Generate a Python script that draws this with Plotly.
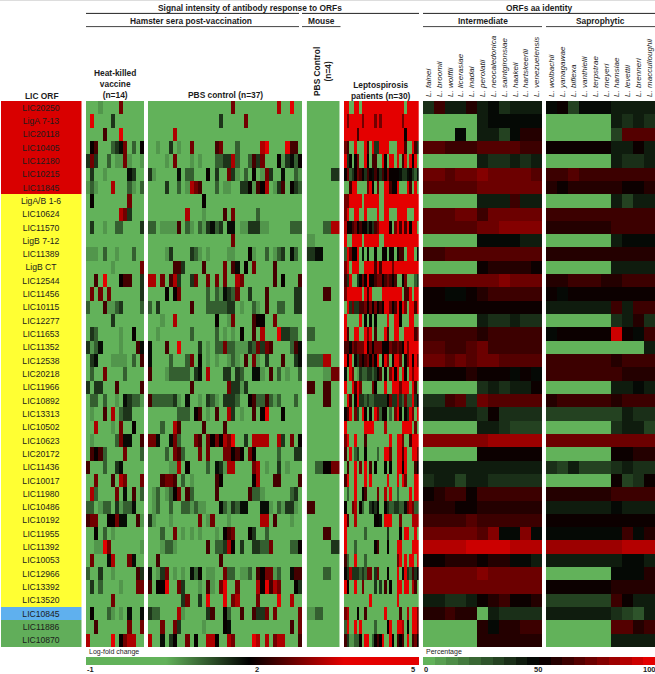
import plotly.graph_objects as go

W, H = 655, 674
FONT = "Liberation Sans"
INK = "#1c1c1c"

# one digit per cell: 0 = green ... 5 = black ... 9 = red
LEVELS = [-1, 0.68, 1.14, 1.5, 1.84, 2.0, 2.45, 2.79, 3.24, 5]

orf_labels = ["LIC20250", "LigA 7-13", "LIC20118", "LIC10405", "LIC12180", "LIC10215", "LIC11845",
              "LigA/B 1-6", "LIC10624", "LIC11570", "LigB 7-12", "LIC11389", "LigB CT", "LIC12544",
              "LIC11456", "LIC10115", "LIC12277", "LIC11653", "LIC11352", "LIC12538", "LIC20218",
              "LIC11966", "LIC10892", "LIC13313", "LIC10502", "LIC10623", "LIC20172", "LIC11436",
              "LIC10017", "LIC11980", "LIC10486", "LIC10192", "LIC11955", "LIC11392", "LIC10053",
              "LIC12966", "LIC13392", "LIC13520", "LIC10845", "LIC11886", "LIC10870"]
orf_groups = [0] * 7 + [1] * 31 + [2] + [3] * 2
group_colors = ["#d90000", "#ffff33", "#5fb0ee", "#61ae5a"]

intermediate_names = ["L. fainei", "L. broomii", "L. wolffii", "L. licerasiae", "L. inadai", "L. perolatii",
                      "L. neocaledonica", "L. saintgironsiae", "L. haakeii", "L. hartskeerlii", "L. venezuelensis"]
saprophytic_names = ["L. wolbachii", "L. yanagawae", "L. biflexa", "L. vanthielii", "L. terpstrae", "L. meyeri",
                     "L. hamsiae", "L. levettii", "L. brenneri", "L. macculloughii"]

heat_killed = [
    "00010000700000", "09000030000000", "00006000900000", "05600023470205", "37300201171001",
    "03001000004300", "12100080002102", "05000000007000", "00000000873000", "03001002200003",
    "00000000000000", "11102001000200", "00000010000007", "00609000566003", "07070700000003",
    "20006112300002", "00000030000000", "03200000100500", "31240000100064", "03400011110206",
    "02007000020000", "30330006000006", "02202001043221", "01006080233000", "00800010700500",
    "01000002744006", "06562000070002", "60002003400000", "00700060870007", "08200007040602",
    "22012203122400", "67700557440061", "00502010000000", "00119700000001", "07000480007400",
    "20030010000063", "03020000100077", "00000070000000", "05000210104004", "00600000007007",
    "80000090578800",
]

pbs_control = [
    "0000000000 0000000000 7000000000 0800900",
    "0000000000 0000000300 0007000000 0000000",
    "0000008000 0000000000 0000000000 0000000",
    "0010030100 7000006700 0200000890 0009660",
    "0000107000 1010002233 8200263700 0513425",
    "3100000402 2000503007 3102050173 0040021",
    "0000300201 8760002011 0033516580 1360532",
    "0000000000 0005000000 0000000000 0000000",
    "0000000008 0001000060 7000002000 0000000",
    "2201111602 1021342304 4011333110 0000222",
    "0000000000 0000000000 7000000000 0000000",
    "0000130000 3210100001 1000510020 1230420",
    "0000006630 0006000070 6405070000 6000000",
    "8807068300 3700707070 0870000000 6050006",
    "0000505700 0000202143 2700300060 0000033",
    "2030000000 6000222223 3010021060 0220033",
    "0001008000 0000005001 7000065500 7000000",
    "0010000000 2000002010 1050060800 0933220",
    "4000600900 0030102272 2111327376 0000264",
    "4000020002 7050101001 2106071030 0060034",
    "6000122222 0340800033 0320044106 0201002",
    "0000000000 6000000007 3313000000 0000000",
    "6222223104 0010321033 3200562262 1200020",
    "0000000222 0560106008 3010060590 0050000",
    "0002008600 0006000060 0000000000 0000000",
    "7740047200 0760757587 9003088880 0830705",
    "0000207620 0070700077 5650750000 0200033",
    "0000011805 0000204318 8000078010 0301000",
    "0006776020 1000006500 0000058000 6600006",
    "0120125706 2000006000 0000622100 0000230",
    "0120020022 1211000421 3244000441 0213310",
    "3100010000 0070170001 0000000880 6000100",
    "0002007010 1010001056 7000530020 0000000",
    "0001221000 0000602238 5030033227 0000225",
    "0060000000 0000000600 0000000000 0000000",
    "4013701010 4250110072 2011206577 1200466",
    "6055900730 0010610790 0700008596 8700053",
    "0000000037 0030900090 7800007000 0900800",
    "3220000810 0000360052 0060063370 7000007",
    "0007007300 0001000054 0000000000 0000607",
    "8004035007 0500885008 7000098080 7880006",
]

mouse_control = [
    "0000", "0000", "0000", "0000", "0000", "0003", "0000", "0000", "0000", "0028",
    "1000", "3400", "0000", "0000", "0060", "0000", "0000", "2000", "0000", "2280",
    "0017", "6060", "0060", "0000", "0000", "0000", "0000", "0257", "0000", "0000",
    "6000", "0000", "0060", "0003", "0000", "0020", "0000", "0000", "1200", "0000",
    "0000",
]

lepto_patients = [
    "9900990999 9999999999 9999099999",
    "9799999799 9979799999 9997999999",
    "9999969999 9999999999 9999599999",
    "7600900096 0933999900 0999600963",
    "9350570095 0660095099 0906909590",
    "5723576536 5465365755 5543345324",
    "0069900007 9507009965 5900096090",
    "7799999099 9999009999 9999999999",
    "7900990090 0009009900 0999900099",
    "8556756553 5367999950 7969695990",
    "9009999099 9999009999 9999999999",
    "2975590405 0050055055 0566099905",
    "7909990099 9969699997 9999999999",
    "6390035759 5567756765 6005700023",
    "7999999096 9000099999 9990669099",
    "0937336675 7575659975 6959709969",
    "9000009050 5050000900 9950009900",
    "9600990097 9060009600 9900999967",
    "6657677795 7577755576 6765979999",
    "9590536567 5759059705 9970579597",
    "4097013223 3235605079 5909509799",
    "9009697000 0750009009 9979990960",
    "0960593323 2233333573 3832722935",
    "5690730950 5097255020 7950539709",
    "9000000099 9900008000 0009999070",
    "7900900060 0000000090 0997006999",
    "6090230050 0002009970 0996900997",
    "0600907090 6050005050 0995900065",
    "6900900090 9000000900 0909700099",
    "0200900560 0007008090 0200009099",
    "5007805200 3435005322 3322478722",
    "9600800000 0055409990 0070000888",
    "9000000020 0000000300 0050990090",
    "9000200000 0056000500 0990000999",
    "6200900020 0000000000 0790909909",
    "5383332327 7037000500 0904932635",
    "9500900700 0030306050 0990990860",
    "0000000000 9000000000 0900000000",
    "7800050060 0000009000 0060080997",
    "2900909000 0020000590 0998050997",
    "6311225099 0256590095 0656090675",
]

intermediate_identity = [
    [38, 62, 44, 40, 58, 40, 46, 38, 42, 42, 42],
    [0, 0, 0, 0, 0, 43, 46, 46, 46, 46, 46],
    [0, 0, 0, 48, 0, 42, 44, 33, 48, 58, 56],
    [65, 65, 62, 61, 63, 65, 66, 67, 66, 64, 62],
    [0, 0, 0, 0, 0, 41, 38, 37, 43, 36, 41],
    [70, 70, 68, 70, 72, 75, 70, 70, 70, 70, 68],
    [68, 68, 66, 69, 66, 70, 72, 72, 72, 72, 70],
    [0, 0, 0, 0, 0, 40, 43, 44, 60, 44, 44],
    [68, 68, 68, 70, 70, 63, 70, 70, 70, 70, 70],
    [68, 68, 68, 68, 68, 73, 73, 75, 75, 75, 75],
    [0, 0, 0, 0, 0, 45, 45, 45, 45, 44, 44],
    [62, 62, 65, 65, 65, 66, 66, 65, 65, 65, 65],
    [0, 0, 0, 0, 0, 52, 56, 56, 56, 56, 55],
    [70, 70, 72, 72, 74, 72, 74, 75, 72, 74, 72],
    [52, 54, 45, 45, 52, 58, 64, 62, 62, 62, 60],
    [55, 54, 52, 55, 55, 53, 52, 52, 52, 52, 50],
    [0, 0, 0, 0, 0, 44, 36, 36, 40, 37, 36],
    [62, 62, 60, 62, 62, 58, 62, 62, 62, 62, 60],
    [65, 65, 62, 60, 66, 70, 62, 62, 62, 62, 62],
    [70, 70, 68, 70, 68, 70, 70, 68, 68, 68, 68],
    [55, 55, 53, 50, 58, 55, 50, 50, 45, 50, 46],
    [0, 0, 0, 0, 0, 35, 42, 36, 42, 40, 54],
    [36, 36, 64, 68, 36, 72, 68, 66, 66, 66, 66],
    [43, 43, 41, 41, 41, 38, 55, 38, 38, 38, 38],
    [0, 0, 0, 0, 0, 40, 44, 37, 34, 34, 34],
    [78, 78, 78, 78, 75, 78, 84, 84, 84, 84, 84],
    [0, 0, 0, 0, 0, 54, 52, 55, 52, 53, 55],
    [41, 41, 41, 41, 41, 41, 42, 41, 44, 41, 40],
    [36, 40, 41, 34, 40, 44, 36, 36, 38, 38, 38],
    [55, 57, 60, 60, 54, 62, 62, 64, 62, 62, 60],
    [56, 56, 57, 55, 55, 58, 58, 58, 58, 57, 57],
    [64, 64, 62, 62, 66, 64, 64, 62, 62, 64, 62],
    [74, 74, 72, 72, 70, 68, 76, 46, 46, 78, 46],
    [88, 88, 86, 86, 92, 92, 90, 90, 88, 86, 85],
    [55, 55, 58, 56, 58, 55, 58, 58, 45, 45, 44],
    [70, 70, 70, 70, 70, 76, 74, 72, 72, 72, 72],
    [72, 72, 70, 70, 72, 72, 72, 74, 74, 74, 74],
    [40, 40, 37, 37, 40, 52, 56, 62, 55, 55, 58],
    [58, 58, 62, 56, 58, 0, 44, 38, 36, 36, 38],
    [0, 0, 0, 0, 0, 58, 48, 56, 57, 62, 62],
    [0, 0, 0, 0, 0, 58, 58, 58, 58, 58, 56],
]

saprophytic_identity = [
    [47, 53, 32, 47, 48, 46, 43, 43, 42, 42],
    [0, 0, 0, 0, 0, 0, 42, 36, 42, 38],
    [0, 0, 0, 0, 0, 0, 33, 66, 66, 66],
    [50, 53, 52, 51, 52, 52, 44, 44, 52, 42],
    [0, 0, 0, 0, 0, 0, 42, 39, 39, 44],
    [62, 63, 65, 62, 62, 62, 60, 62, 63, 63],
    [56, 55, 57, 56, 56, 56, 56, 55, 55, 57],
    [0, 0, 0, 0, 0, 0, 40, 34, 40, 43],
    [60, 60, 60, 60, 62, 62, 62, 60, 60, 62],
    [58, 58, 56, 56, 58, 58, 62, 60, 60, 60],
    [0, 0, 0, 0, 0, 0, 42, 46, 46, 46],
    [56, 57, 57, 57, 57, 57, 57, 58, 58, 58],
    [0, 0, 0, 0, 0, 0, 40, 40, 40, 41],
    [58, 58, 60, 60, 60, 58, 57, 60, 60, 60],
    [50, 45, 52, 52, 52, 54, 54, 54, 52, 52],
    [43, 43, 43, 43, 43, 43, 63, 44, 60, 60],
    [0, 0, 0, 0, 0, 0, 36, 41, 56, 38],
    [45, 54, 54, 50, 50, 50, 90, 52, 46, 64],
    [0, 0, 0, 0, 0, 0, 0, 0, 0, 44],
    [62, 62, 62, 62, 60, 60, 58, 60, 60, 60],
    [60, 60, 60, 60, 60, 60, 60, 58, 58, 58],
    [0, 0, 0, 0, 0, 0, 40, 42, 46, 42],
    [58, 62, 62, 62, 64, 60, 56, 60, 60, 60],
    [33, 32, 32, 32, 33, 33, 32, 40, 36, 36],
    [0, 0, 0, 0, 0, 0, 37, 41, 41, 34],
    [72, 72, 70, 70, 72, 72, 72, 72, 72, 74],
    [0, 0, 0, 0, 0, 0, 53, 54, 58, 58],
    [36, 34, 42, 34, 34, 34, 38, 40, 37, 39],
    [0, 0, 0, 0, 0, 0, 55, 33, 36, 55],
    [56, 57, 56, 56, 58, 58, 60, 64, 60, 64],
    [42, 40, 41, 40, 40, 40, 46, 42, 40, 43],
    [55, 55, 55, 55, 55, 55, 55, 55, 55, 55],
    [46, 46, 46, 46, 46, 46, 47, 62, 46, 58],
    [82, 82, 80, 80, 82, 84, 84, 85, 86, 85],
    [42, 42, 40, 40, 42, 42, 40, 47, 47, 44],
    [0, 0, 0, 0, 0, 0, 45, 45, 45, 58],
    [50, 52, 50, 50, 50, 52, 56, 56, 56, 56],
    [33, 33, 33, 33, 33, 33, 60, 55, 44, 44],
    [42, 42, 42, 42, 42, 42, 35, 32, 28, 43],
    [0, 0, 0, 0, 0, 0, 66, 68, 56, 64],
    [0, 0, 0, 0, 0, 0, 42, 42, 44, 44],
]

GREEN = (98, 178, 90)
RED = (228, 0, 0)

# log-fold bar stays green to about a quarter and is full red from about three quarters
logfold_scale = [[0, "rgb(98,178,90)"], [0.24, "rgb(98,178,90)"], [0.49, "rgb(0,0,0)"],
                 [0.775, "rgb(228,0,0)"], [1, "rgb(228,0,0)"]]


def stepped_scale(steps):
    # the percentage bar in the figure is drawn in blocks
    scale = []
    for i in range(steps):
        t = i / (steps - 1)
        end = GREEN if t < 0.5 else RED
        share = abs(t - 0.5) * 2
        color = "rgb(%d,%d,%d)" % tuple(round(c * share) for c in end)
        scale += [[i / steps, color], [(i + 1) / steps, color]]
    return scale


def decode(rows):
    return [[LEVELS[int(c)] for c in row.replace(" ", "")] for row in rows]


def px_x(x):
    return x / W


def px_y(y):
    return 1 - y / H


def add_text(fig, x, y, text, size=8.4, bold=True, anchor="center", angle=0, ay="middle"):
    fig.add_annotation(x=px_x(x), y=px_y(y), xref="paper", yref="paper", text=text, showarrow=False,
                       xanchor=anchor, yanchor=ay, align="center", textangle=angle,
                       font=dict(family=FONT, size=size, color=INK, weight="bold" if bold else "normal"))


def add_rule(fig, x0, x1, y, color="#222222", width=1):
    fig.add_shape(type="line", xref="paper", yref="paper", x0=px_x(x0), x1=px_x(x1), y0=px_y(y), y1=px_y(y),
                  line=dict(color=color, width=width))


fig = go.Figure()

# left column with the coloured ORF labels
fig.add_trace(go.Heatmap(z=[[g] for g in orf_groups], x=["ORF"], y=orf_labels, xaxis="x", yaxis="y",
                         zmin=0, zmax=3, showscale=False,
                         colorscale=[[i / 3, c] for i, c in enumerate(group_colors)],
                         text=[[s] for s in orf_labels], texttemplate="%{text}",
                         textfont=dict(family=FONT, size=8.6, color=INK)))

panels = [
    ("x2", (86, 144), decode(heat_killed), None, "coloraxis"),
    ("x3", (148, 302), decode(pbs_control), None, "coloraxis"),
    ("x4", (306.7, 339.7), decode(mouse_control), None, "coloraxis"),
    ("x5", (344, 418.7), decode(lepto_patients), None, "coloraxis"),
    ("x6", (423, 542), intermediate_identity, intermediate_names, "coloraxis2"),
    ("x7", (546, 655), saprophytic_identity, saprophytic_names, "coloraxis2"),
]
for axis, span, z, names, caxis in panels:
    columns = names if names else list(range(len(z[0])))
    fig.add_trace(go.Heatmap(z=z, x=columns, y=orf_labels, xaxis=axis, yaxis="y", coloraxis=caxis))

layout_axes = {"xaxis": dict(domain=[px_x(1), px_x(81.5)], visible=False)}
for axis, span, z, names, caxis in panels:
    key = "xaxis" + axis[1:]
    if names:
        layout_axes[key] = dict(domain=[px_x(span[0]), px_x(span[1])], side="top", anchor="y", tickangle=-90,
                                tickmode="linear", dtick=1, ticks="", showgrid=False, zeroline=False,
                                showline=False, ticklabelstandoff=3,
                                tickfont=dict(family=FONT, size=8.1, color=INK, style="italic"))
    else:
        layout_axes[key] = dict(domain=[px_x(span[0]), px_x(span[1])], visible=False)

fig.update_layout(
    width=W, height=H, margin=dict(l=0, r=0, t=0, b=0, autoexpand=False),
    paper_bgcolor="white", plot_bgcolor="white", showlegend=False,
    font=dict(family=FONT, color=INK),
    yaxis=dict(domain=[px_y(647), px_y(101)], autorange="reversed", visible=False),
    coloraxis=dict(cmin=-1, cmax=5, colorscale=logfold_scale,
                   colorbar=dict(orientation="h", x=px_x(86), xanchor="left", y=px_y(665), yanchor="bottom",
                                 len=333, lenmode="pixels", thickness=8, thicknessmode="pixels",
                                 outlinewidth=0, xpad=0, ypad=0, ticks="", showticklabels=False)),
    coloraxis2=dict(cmin=0, cmax=100, colorscale=stepped_scale(20),
                    colorbar=dict(orientation="h", x=px_x(423), xanchor="left", y=px_y(665), yanchor="bottom",
                                  len=232, lenmode="pixels", thickness=8, thicknessmode="pixels",
                                  outlinewidth=0, xpad=0, ypad=0, ticks="", showticklabels=False)),
    **layout_axes,
)

# header rules
for x0, x1 in [(86, 299), (302, 419), (423, 655)]:
    add_rule(fig, x0, x1, 13.4)
for x0, x1 in [(86, 299), (302, 340.5), (423, 542), (546, 655)]:
    add_rule(fig, x0, x1, 26.6, color="#444444")
add_rule(fig, 0, 655, 0.5, color="#dddddd")
add_rule(fig, 0.5, 0.5, 674, color="#dddddd")

# headers
add_text(fig, 250, 8, "Signal intensity of antibody response to ORFs")
add_text(fig, 538.7, 8, "ORFs aa identity")
add_text(fig, 191, 21, "Hamster sera post-vaccination")
add_text(fig, 321, 21, "Mouse")
add_text(fig, 482.7, 21, "Intermediate")
add_text(fig, 600, 21, "Saprophytic")
add_text(fig, 115, 84, "Heat-killed<br>vaccine<br>(n=14)")
add_text(fig, 225, 95, "PBS control (n=37)")
add_text(fig, 41.7, 96, "LIC ORF")
add_text(fig, 322.5, 98, "PBS Control<br>(n=4)", angle=-90, ay="bottom")
add_text(fig, 381, 90.5, "Leptospirosis<br>patients (n=30)")

# colour bar captions and their tick labels
add_text(fig, 87, 652, "Log-fold change", size=7, bold=False, anchor="left")
add_text(fig, 424, 652, "Percentage", size=7, bold=False, anchor="left")
for x, label in [(90, "-1"), (257, "2"), (413, "5"), (426, "0"), (537.5, "50"), (649, "100")]:
    add_text(fig, x, 669.5, label, size=7.5)

fig.write_html("out.html", config=dict(displayModeBar=False),
               post_script="document.body.style.margin='0';")
